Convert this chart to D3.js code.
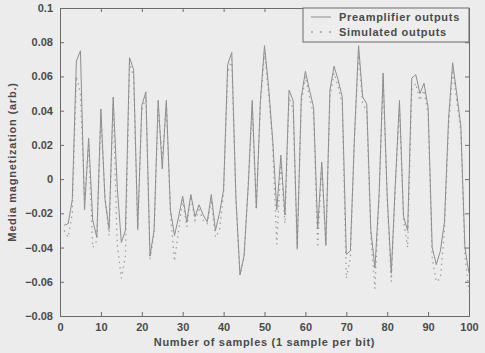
<!DOCTYPE html>
<html>
<head>
<meta charset="utf-8">
<script src="https://cdn.jsdelivr.net/npm/d3@7"></script>
<style>
  html, body { margin: 0; padding: 0; background: #ececec; }
  svg { display: block; }
  text { font-family: "Liberation Sans", Arial, sans-serif; font-weight: bold; fill: #4a4a4a; }
</style>
</head>
<body>
<script>
// samples 1..100
const samples = d3.range(1, 101);

// Preamplifier outputs (solid line)
const preampValues = [
  -0.027, -0.026, -0.012, 0.069, 0.075, -0.018, 0.024, -0.024, -0.034, 0.041,
  -0.012, -0.029, 0.048, -0.005, -0.037, -0.030, 0.071, 0.064, -0.029, 0.043,
  0.051, -0.045, -0.030, 0.046, 0.006, 0.046, -0.018, -0.033, -0.022, -0.010,
  -0.025, -0.009, -0.022, -0.015, -0.021, -0.025, -0.009, -0.030, -0.020, -0.006,
  0.067, 0.074, -0.010, -0.056, -0.045, -0.005, 0.046, -0.017, 0.046, 0.078,
  0.054, 0.023, -0.018, 0.014, -0.021, 0.052, 0.046, -0.040, 0.048, 0.063,
  0.052, 0.042, -0.029, 0.010, -0.038, 0.052, 0.066, 0.058, 0.048, -0.044,
  -0.042, 0.025, 0.078, 0.048, 0.044, -0.030, -0.052, -0.010, 0.062, -0.010,
  -0.055, -0.002, 0.046, -0.022, -0.030, 0.059, 0.061, 0.050, 0.056, 0.042,
  -0.040, -0.050, -0.042, -0.025, 0.035, 0.068, 0.050, 0.031, -0.040, -0.055
];

// Simulated outputs (dash-dot line)
const simulatedValues = [
  -0.030, -0.034, -0.020, 0.060, 0.050, -0.012, 0.020, -0.040, -0.036, 0.036,
  -0.010, -0.033, 0.044, -0.038, -0.058, -0.045, 0.068, 0.060, -0.030, 0.040,
  0.048, -0.047, -0.032, 0.042, 0.012, 0.044, -0.020, -0.048, -0.030, -0.012,
  -0.028, -0.010, -0.024, -0.018, -0.024, -0.026, -0.012, -0.034, -0.030, -0.008,
  0.062, 0.070, -0.012, -0.056, -0.046, -0.004, 0.042, -0.018, 0.044, 0.074,
  0.050, 0.020, -0.038, 0.010, -0.026, 0.048, 0.040, -0.042, 0.044, 0.060,
  0.048, 0.038, -0.040, 0.008, -0.040, 0.048, 0.062, 0.054, 0.044, -0.058,
  -0.046, 0.024, 0.074, 0.044, 0.040, -0.034, -0.064, -0.012, 0.058, -0.012,
  -0.060, -0.004, 0.042, -0.024, -0.040, 0.052, 0.056, 0.046, 0.052, 0.038,
  -0.046, -0.060, -0.058, -0.030, 0.030, 0.064, 0.046, 0.028, -0.044, -0.066
];

const xTicks = d3.range(0, 101, 10);
const yTicks = [-0.08, -0.06, -0.04, -0.02, 0, 0.02, 0.04, 0.06, 0.08, 0.1];
const legendLabels = ["Preamplifier outputs", "Simulated outputs"];

const width = 485, height = 353;
const margin = { top: 8, right: 16, bottom: 37, left: 60 };
const w = width - margin.left - margin.right;
const h = height - margin.top - margin.bottom;

const svg = d3.select("body").append("svg")
  .attr("width", width)
  .attr("height", height);

const root = svg.append("g").attr("transform", `translate(${margin.left},${margin.top})`);

const x = d3.scaleLinear().domain([0, 100]).range([0, w]);
const y = d3.scaleLinear().domain([-0.08, 0.1]).range([h, 0]);

const axisColor = "#6a6a6a";
const lineColor = "#8e8e8e";
const simColor = "#a0a0a0";
const tickFmt = d => (d === 0 ? "0" : d3.format("")(+d.toFixed(2)));

// axes with inward ticks (box style)
const xAxis = root.append("g").attr("transform", `translate(0,${h})`)
  .call(d3.axisBottom(x).tickValues(xTicks).tickSize(-4).tickPadding(7).tickFormat(d3.format("d")));
const xAxisTop = root.append("g")
  .call(d3.axisTop(x).tickValues(xTicks).tickSize(-4).tickFormat(""));
const yAxis = root.append("g")
  .call(d3.axisLeft(y).tickValues(yTicks).tickSize(-4).tickPadding(7).tickFormat(tickFmt));
const yAxisRight = root.append("g").attr("transform", `translate(${w},0)`)
  .call(d3.axisRight(y).tickValues(yTicks).tickSize(-4).tickFormat(""));

[xAxis, xAxisTop, yAxis, yAxisRight].forEach(g => {
  g.select(".domain").attr("stroke", axisColor);
  g.selectAll(".tick line").attr("stroke", axisColor);
  g.selectAll(".tick text").attr("font-size", 11).attr("fill", "#4a4a4a");
});
yAxis.selectAll(".tick text").attr("dy", "0.32em");

// lines
const lineGen = vals => d3.line()
  .x((d, i) => x(samples[i]))
  .y(d => y(d))(vals);

root.append("path")
  .attr("d", lineGen(simulatedValues))
  .attr("fill", "none")
  .attr("stroke", simColor)
  .attr("stroke-width", 1.3)
  .attr("stroke-dasharray", "1.5,4");

root.append("path")
  .attr("d", lineGen(preampValues))
  .attr("fill", "none")
  .attr("stroke", lineColor)
  .attr("stroke-width", 1);

// legend box (top right)
const lg = root.append("g").attr("transform", `translate(${w - 166},0)`);
lg.append("rect")
  .attr("width", 166).attr("height", 34)
  .attr("fill", "#ededed").attr("stroke", axisColor);
lg.append("line")
  .attr("x1", 8).attr("x2", 28).attr("y1", 9).attr("y2", 9)
  .attr("stroke", lineColor);
lg.append("line")
  .attr("x1", 8).attr("x2", 28).attr("y1", 24).attr("y2", 24)
  .attr("stroke", simColor).attr("stroke-width", 1.3)
  .attr("stroke-dasharray", "2,7,2,7");
lg.selectAll("text.lbl").data(legendLabels).enter().append("text")
  .attr("class", "lbl")
  .attr("x", 36).attr("y", (d, i) => 13 + i * 15)
  .attr("font-size", 11)
  .attr("letter-spacing", 0.7)
  .text(d => d);

// axis titles
root.append("text")
  .attr("x", w / 2).attr("y", h + 30)
  .attr("text-anchor", "middle").attr("font-size", 11)
  .attr("letter-spacing", 0.7)
  .text("Number of samples (1 sample per bit)");

root.append("text")
  .attr("transform", "rotate(-90)")
  .attr("x", -h / 2).attr("y", -44)
  .attr("text-anchor", "middle").attr("font-size", 11)
  .attr("letter-spacing", 0.8)
  .text("Media magnetization (arb.)");
</script>
</body>
</html>
